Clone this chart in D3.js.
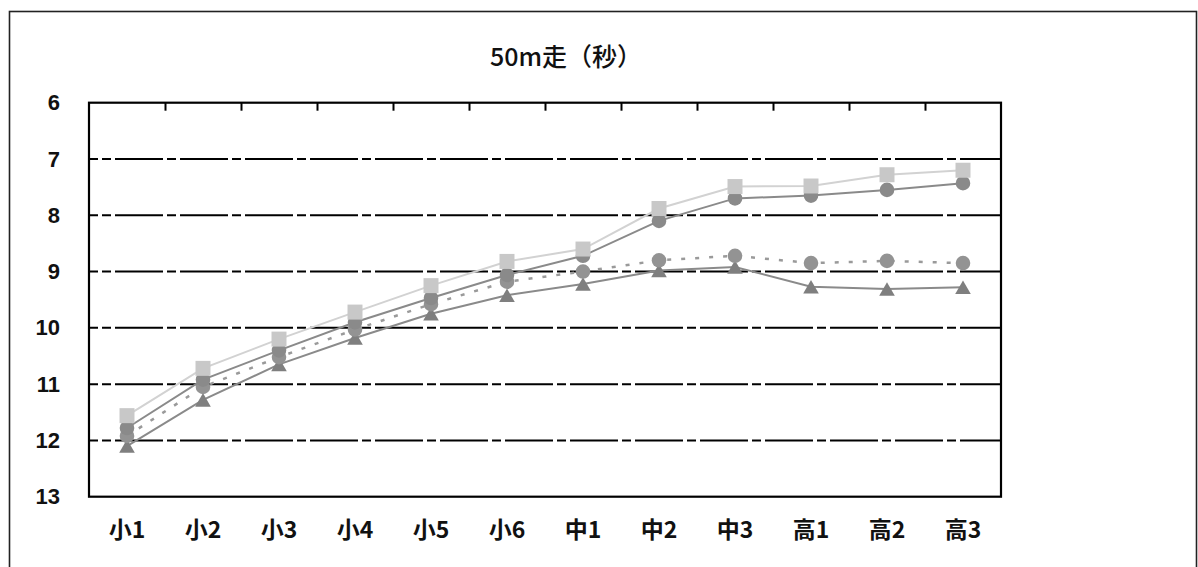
<!DOCTYPE html>
<html>
<head>
<meta charset="utf-8">
<script src="https://cdn.jsdelivr.net/npm/d3@7"></script>
<style>
  html, body { margin: 0; padding: 0; background: #fff; }
  svg { display: block; }
</style>
</head>
<body>
<svg id="chart" width="1198" height="567"></svg>
<script>
// ---- data ----
const categories = ["小1","小2","小3","小4","小5","小6","中1","中2","中3","高1","高2","高3"];
const yTicks = [6, 7, 8, 9, 10, 11, 12, 13];
const gridValues = [7, 8, 9, 10, 11, 12];
const title = "50m走（秒）";

const seriesSquare   = [11.56, 10.72, 10.20, 9.72, 9.25, 8.82, 8.60, 7.88, 7.49, 7.48, 7.28, 7.20];
const seriesCircle   = [11.78, 10.92, 10.40, 9.90, 9.47, 9.06, 8.72, 8.10, 7.70, 7.65, 7.55, 7.43];
const seriesDotted   = [11.92, 11.05, 10.52, 10.03, 9.58, 9.18, 9.00, 8.80, 8.72, 8.85, 8.81, 8.85];
const seriesTriangle = [12.10, 11.28, 10.65, 10.18, 9.75, 9.42, 9.22, 8.98, 8.92, 9.27, 9.31, 9.28];

// ---- layout ----
const svg = d3.select("#chart");
const plot = { left: 89, right: 1001, top: 102.7, bottom: 496.7 };

const x = d3.scaleBand().domain(categories).range([plot.left, plot.right]).padding(0);
const xEdge = d3.scaleLinear().domain([0, categories.length]).range([plot.left, plot.right]);
const y = d3.scaleLinear().domain([6, 13]).range([plot.top, plot.bottom]);
const cx = c => x(c) + x.bandwidth() / 2;

// outer frame
svg.append("rect")
  .attr("x", 9.5).attr("y", 11.5)
  .attr("width", 1187).attr("height", 600)
  .attr("fill", "none").attr("stroke", "#222").attr("stroke-width", 1.6);

// title
svg.append("text")
  .attr("x", 566).attr("y", 66)
  .attr("text-anchor", "middle")
  .attr("font-family", "'Noto Sans CJK JP', sans-serif")
  .attr("font-size", 25)
  .attr("font-weight", 500)
  .attr("fill", "#111")
  .text(title);

// gridlines
svg.append("g").selectAll("line")
  .data(gridValues).join("line")
  .attr("x1", plot.left).attr("x2", plot.right)
  .attr("y1", d => y(d)).attr("y2", d => y(d))
  .attr("stroke", "#000").attr("stroke-width", 2)
  .attr("stroke-dasharray", "48,4,9,4")
  .attr("stroke-dashoffset", 39);

// top ticks between categories (pointing down, inside)
const topAxis = d3.axisTop(xEdge)
  .tickValues(d3.range(1, categories.length))
  .tickSize(-8).tickFormat("");
const gTop = svg.append("g").attr("transform", `translate(0,${plot.top})`).call(topAxis);
gTop.select(".domain").remove();
gTop.selectAll(".tick line").attr("stroke", "#000").attr("stroke-width", 2);

// y axis labels
const leftAxis = d3.axisLeft(y).tickValues(yTicks).tickSize(0).tickPadding(29).tickFormat(d3.format("d"));
const gLeft = svg.append("g").attr("transform", `translate(${plot.left},0)`).call(leftAxis);
gLeft.select(".domain").remove();
gLeft.selectAll(".tick text")
  .attr("font-family", "'Liberation Sans', Arial, sans-serif")
  .attr("font-size", 22).attr("font-weight", "bold").attr("fill", "#111");

// x axis labels
const bottomAxis = d3.axisBottom(x).tickSize(0).tickPadding(25);
const gBottom = svg.append("g").attr("transform", `translate(0,${plot.bottom})`).call(bottomAxis);
gBottom.select(".domain").remove();
gBottom.selectAll(".tick text")
  .attr("font-family", "'Noto Sans CJK JP', sans-serif")
  .attr("font-size", 23).attr("font-weight", "bold").attr("fill", "#111");

// series (drawn bottom to top)
const line = d3.line().x((d, i) => cx(categories[i])).y(d => y(d));

function drawSeries(values, opts) {
  const g = svg.append("g");
  g.append("path").datum(values)
    .attr("d", line)
    .attr("fill", "none")
    .attr("stroke", opts.lineColor)
    .attr("stroke-width", opts.lineWidth)
    .attr("stroke-dasharray", opts.dash || null);
  g.selectAll(".m").data(values).join("path")
    .attr("fill", opts.markerColor)
    .attr("d", (d, i) => {
      const px = cx(categories[i]), py = y(d);
      const p = d3.path();
      if (opts.marker === "square") {
        const s = 7.5;
        p.rect(px - s, py - s, 2 * s, 2 * s);
      } else if (opts.marker === "circle") {
        p.arc(px, py, 7.3, 0, 2 * Math.PI);
      } else {
        const w = 7.8, h = 6.8;
        p.moveTo(px, py - h);
        p.lineTo(px + w, py + h);
        p.lineTo(px - w, py + h);
        p.closePath();
      }
      return p.toString();
    });
}

drawSeries(seriesTriangle, { lineColor: "#8a8a8a", lineWidth: 2, markerColor: "#7f7f7f", marker: "triangle" });
drawSeries(seriesDotted,   { lineColor: "#9a9a9a", lineWidth: 2.5, dash: "4,10", markerColor: "#939393", marker: "circle" });
drawSeries(seriesCircle,   { lineColor: "#8a8a8a", lineWidth: 2, markerColor: "#8a8a8a", marker: "circle" });
drawSeries(seriesSquare,   { lineColor: "#d2d2d2", lineWidth: 2, markerColor: "#c8c8c8", marker: "square" });

// plot area frame
svg.append("rect")
  .attr("x", plot.left).attr("y", plot.top)
  .attr("width", plot.right - plot.left).attr("height", plot.bottom - plot.top)
  .attr("fill", "none").attr("stroke", "#000").attr("stroke-width", 2.2);
</script>
</body>
</html>
